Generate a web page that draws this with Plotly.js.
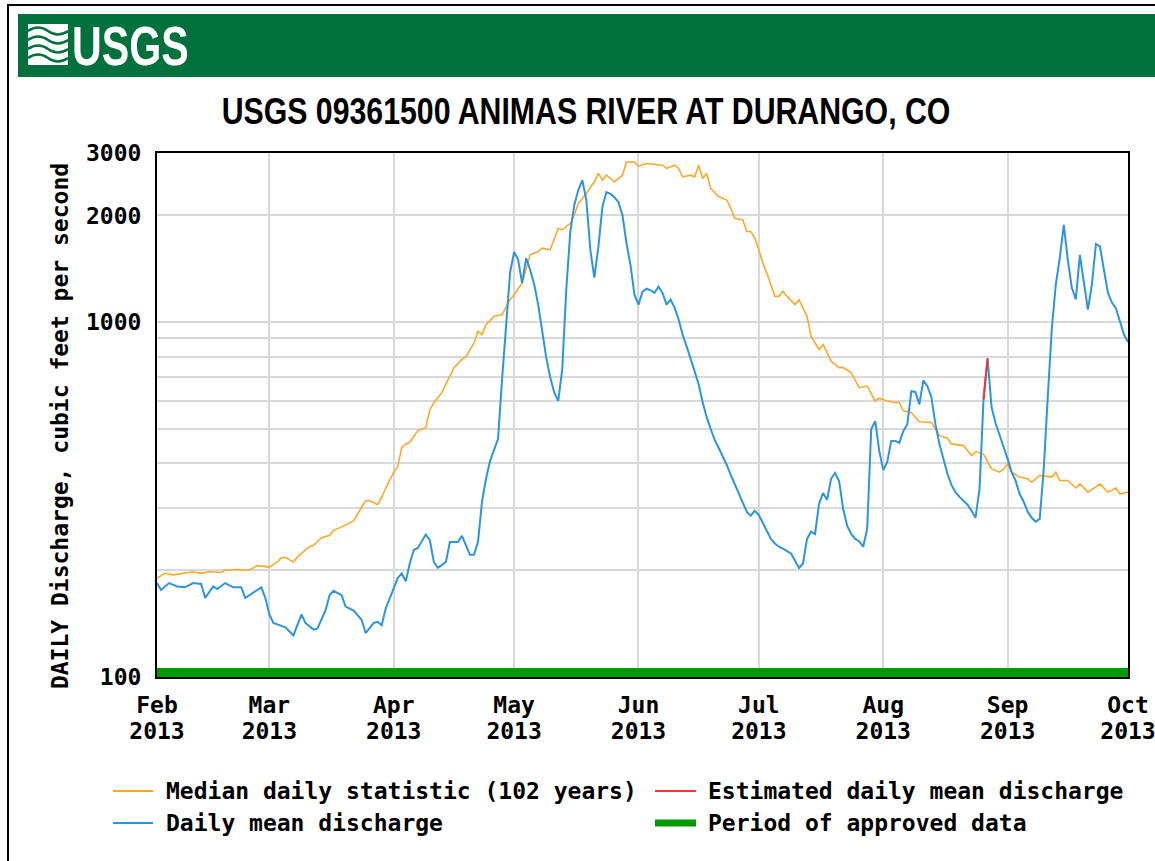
<!DOCTYPE html>
<html>
<head>
<meta charset="utf-8">
<script src="https://cdn.plot.ly/plotly-3.0.1.min.js"></script>
<style>html,body{margin:0;padding:0;background:#fff;}#chart{width:1155px;height:861px;}</style>
</head>
<body>
<div id="chart"></div>
<script>
// ---------------- DATA ----------------
const monthTicks = ['2013-02-01','2013-03-01','2013-04-01','2013-05-01','2013-06-01','2013-07-01','2013-08-01','2013-09-01','2013-10-01'];
const monthLabels = ['Feb<br>2013','Mar<br>2013','Apr<br>2013','May<br>2013','Jun<br>2013','Jul<br>2013','Aug<br>2013','Sep<br>2013','Oct<br>2013'];
const yGridValues = [100,200,300,400,500,600,700,800,900,1000,2000,3000];
const yTickLabels = ['100','','','','','','','','','1000','2000','3000'];

const medianDates = ['2013-02-01','2013-02-03','2013-02-05','2013-02-08','2013-02-10','2013-02-12','2013-02-14','2013-02-17','2013-02-18','2013-02-21','2013-02-24','2013-02-26',
'2013-03-01','2013-03-03','2013-03-04','2013-03-05','2013-03-07','2013-03-08','2013-03-10','2013-03-11','2013-03-12','2013-03-14','2013-03-16','2013-03-17','2013-03-20','2013-03-22','2013-03-24','2013-03-25','2013-03-26','2013-03-28','2013-03-29','2013-03-30',
'2013-04-01','2013-04-02','2013-04-03','2013-04-04','2013-04-05','2013-04-07','2013-04-09','2013-04-10','2013-04-11','2013-04-13','2013-04-14','2013-04-15','2013-04-16','2013-04-18','2013-04-19','2013-04-21','2013-04-22','2013-04-23','2013-04-24','2013-04-26','2013-04-28','2013-04-30',
'2013-05-01','2013-05-03','2013-05-05','2013-05-07','2013-05-08','2013-05-10','2013-05-11','2013-05-12','2013-05-13','2013-05-15','2013-05-16','2013-05-17','2013-05-19','2013-05-21','2013-05-22','2013-05-23','2013-05-24','2013-05-26','2013-05-28','2013-05-29','2013-05-31',
'2013-06-01','2013-06-03','2013-06-04','2013-06-07','2013-06-08','2013-06-10','2013-06-11','2013-06-12','2013-06-14','2013-06-15','2013-06-16','2013-06-17','2013-06-18','2013-06-19','2013-06-21','2013-06-23','2013-06-24','2013-06-25','2013-06-27','2013-06-28','2013-06-29','2013-06-30',
'2013-07-01','2013-07-02','2013-07-03','2013-07-05','2013-07-06','2013-07-07','2013-07-08','2013-07-10','2013-07-11','2013-07-13','2013-07-14','2013-07-16','2013-07-17','2013-07-19','2013-07-21','2013-07-22','2013-07-24','2013-07-26','2013-07-28','2013-07-30','2013-07-31',
'2013-08-02','2013-08-04','2013-08-05','2013-08-06','2013-08-08','2013-08-10','2013-08-13','2013-08-15','2013-08-17','2013-08-18','2013-08-21','2013-08-23','2013-08-24','2013-08-26','2013-08-28','2013-08-30','2013-08-31',
'2013-09-01','2013-09-02','2013-09-04','2013-09-06','2013-09-07','2013-09-09','2013-09-12','2013-09-13','2013-09-14','2013-09-16','2013-09-18','2013-09-19','2013-09-21','2013-09-24','2013-09-26','2013-09-28','2013-09-29','2013-10-01'];
const medianValues = [190,196,194,196,198,196,198,197,200,201,200,206,
204,211,217,217,211,218,228,233,235,247,251,259,268,276,301,314,314,306,321,341,
378,392,444,454,459,495,505,566,593,634,669,705,745,786,800,875,943,923,985,1039,1051,1158,
1196,1290,1549,1582,1618,1600,1726,1841,1821,1901,2006,2163,2308,2488,2627,2516,2598,2488,2598,2831,2831,
2754,2802,2795,2772,2714,2772,2714,2570,2598,2570,2772,2544,2627,2384,2258,2211,2095,1964,1943,1802,1802,1726,
1600,1468,1376,1183,1183,1222,1183,1121,1158,1039,913,838,866,777,745,745,721,654,661,600,611,
600,594,594,563,557,524,522,479,471,454,449,421,432,425,386,378,386,
399,378,366,362,354,370,366,378,358,358,341,350,332,350,332,341,328,332];

const dailyDates = ['2013-02-01','2013-02-02','2013-02-04','2013-02-06','2013-02-08','2013-02-10','2013-02-12','2013-02-13','2013-02-15','2013-02-16','2013-02-18','2013-02-20','2013-02-22','2013-02-23','2013-02-25','2013-02-27','2013-02-28',
'2013-03-01','2013-03-02','2013-03-04','2013-03-05','2013-03-07','2013-03-08','2013-03-09','2013-03-10','2013-03-12','2013-03-13','2013-03-15','2013-03-16','2013-03-17','2013-03-19','2013-03-20','2013-03-22','2013-03-24','2013-03-25','2013-03-27','2013-03-28','2013-03-29','2013-03-30','2013-03-31',
'2013-04-02','2013-04-03','2013-04-04','2013-04-05','2013-04-06','2013-04-07','2013-04-09','2013-04-10','2013-04-11','2013-04-12','2013-04-14','2013-04-15','2013-04-17','2013-04-18','2013-04-20','2013-04-21','2013-04-22',
'2013-04-23','2013-04-24','2013-04-25','2013-04-26','2013-04-27','2013-04-28','2013-04-29','2013-04-30',
'2013-05-01','2013-05-02','2013-05-03','2013-05-04','2013-05-05','2013-05-06','2013-05-07','2013-05-08','2013-05-09','2013-05-10','2013-05-11','2013-05-12','2013-05-13','2013-05-14','2013-05-15','2013-05-16','2013-05-17','2013-05-18','2013-05-19','2013-05-20','2013-05-21','2013-05-22','2013-05-23','2013-05-24','2013-05-25','2013-05-26','2013-05-27','2013-05-28','2013-05-29','2013-05-30','2013-05-31',
'2013-06-01','2013-06-02','2013-06-03','2013-06-04','2013-06-05','2013-06-06','2013-06-07','2013-06-08','2013-06-09','2013-06-10','2013-06-11','2013-06-12','2013-06-13','2013-06-14','2013-06-15','2013-06-16','2013-06-17','2013-06-18','2013-06-19','2013-06-20','2013-06-21','2013-06-22','2013-06-23','2013-06-24','2013-06-25','2013-06-26','2013-06-27','2013-06-28','2013-06-29','2013-06-30',
'2013-07-01','2013-07-02','2013-07-03','2013-07-04','2013-07-05','2013-07-06','2013-07-07','2013-07-08','2013-07-09','2013-07-10','2013-07-11','2013-07-12','2013-07-13','2013-07-14','2013-07-15','2013-07-16','2013-07-17','2013-07-18','2013-07-19','2013-07-20','2013-07-21','2013-07-22','2013-07-23','2013-07-24','2013-07-25','2013-07-26','2013-07-27','2013-07-28','2013-07-29','2013-07-30','2013-07-31',
'2013-08-01','2013-08-02','2013-08-03','2013-08-04','2013-08-05','2013-08-06','2013-08-07','2013-08-08','2013-08-09','2013-08-10','2013-08-11','2013-08-12','2013-08-13','2013-08-14','2013-08-15','2013-08-16','2013-08-17','2013-08-18','2013-08-19','2013-08-20','2013-08-21','2013-08-22','2013-08-23','2013-08-24','2013-08-25','2013-08-26','2013-08-27','2013-08-28','2013-08-29','2013-08-30','2013-08-31',
'2013-09-01','2013-09-02','2013-09-03','2013-09-04','2013-09-05','2013-09-06','2013-09-07','2013-09-08','2013-09-09','2013-09-10','2013-09-11','2013-09-12','2013-09-13','2013-09-14','2013-09-15','2013-09-16','2013-09-17','2013-09-18','2013-09-19','2013-09-20','2013-09-21','2013-09-22','2013-09-23','2013-09-24','2013-09-25','2013-09-26','2013-09-27','2013-09-28','2013-09-29','2013-09-30','2013-10-01'];
const dailyValues = [184,176,184,180,179,184,183,167,180,177,184,179,179,167,173,179,167,
150,142,139,138,131,140,150,142,136,137,154,170,175,170,158,154,145,133,142,143,140,156,167,
190,196,186,209,228,231,252,243,211,203,211,240,240,250,221,221,240,
312,362,406,434,469,690,973,1379,
1579,1500,1290,1517,1406,1280,1121,935,796,700,634,600,737,1235,1798,2140,2358,2515,2211,1600,1335,1631,2112,2328,2300,2250,2180,2006,1674,1452,1196,
1121,1220,1243,1230,1210,1260,1210,1121,1158,1100,1018,923,855,786,732,669,595,540,500,466,442,420,396,371,350,328,310,292,285,294,
286,272,257,245,238,233,230,227,223,213,203,209,245,257,253,308,330,316,362,376,357,298,267,253,245,241,233,262,500,526,434,
383,404,463,463,457,493,516,639,636,587,686,660,615,516,454,412,374,348,332,322,314,306,294,281,339,607,791,576,519,478,445,
412,378,357,328,312,292,281,274,279,386,615,954,1276,1519,1881,1500,1250,1160,1549,1276,1086,1276,1663,1636,1424,1210,1136,1093,1005,923,880];

const estimatedDates = ['2013-08-26','2013-08-27'];
const estimatedValues = [607,791];

const approvedPeriod = ['2013-02-01','2013-10-01'];

const legendNames = ['Median daily statistic (102 years)','Estimated daily mean discharge','Daily mean discharge','Period of approved data'];

// ---------------- STYLE / GEOMETRY ----------------
const COLORS = {median:'#FBA92C', daily:'#2F95DA', estimated:'#FF3333', approved:'#009A00', header:'#00703C', grid:'#D9D9D9'};
const FIG_W = 1155, FIG_H = 861;
const MARGIN = {l:157, r:27, t:153, b:184, pad:0};
const PLOT_W = FIG_W - MARGIN.l - MARGIN.r;
const PLOT_H = FIG_H - MARGIN.t - MARGIN.b;
const fx = px => (px - MARGIN.l) / PLOT_W;
const fy = py => 1 - (py - MARGIN.t) / PLOT_H;
const MONO = '"DejaVu Sans Mono", monospace';
const NARROW = '"Liberation Sans Narrow", "Liberation Sans", Arial, sans-serif';
const MONO_FONT = {family:MONO, size:23, color:'#000', weight:'bold'};

const traces = [
  {x: medianDates, y: medianValues, type:'scatter', mode:'lines', name: legendNames[0], showlegend:false,
   line:{color:COLORS.median, width:1.6}},
  {x: dailyDates, y: dailyValues, type:'scatter', mode:'lines', name: legendNames[2], showlegend:false,
   line:{color:COLORS.daily, width:2}},
  {x: estimatedDates, y: estimatedValues, type:'scatter', mode:'lines', name: legendNames[1], showlegend:false,
   line:{color:COLORS.estimated, width:2}}
];

const shapes = [
  {type:'line', xref:'paper', yref:'paper', x0:fx(8), x1:fx(8), y0:fy(4), y1:fy(861), line:{color:'#000', width:2}},
  {type:'line', xref:'paper', yref:'paper', x0:fx(7), x1:fx(1156), y0:fy(5), y1:fy(5), line:{color:'#000', width:2}},
  {type:'rect', xref:'paper', yref:'paper', x0:fx(18), x1:fx(1156), y0:fy(14), y1:fy(77), fillcolor:COLORS.header, line:{width:0}},
  {type:'rect', xref:'paper', yref:'paper', x0:fx(28), x1:fx(68), y0:fy(24), y1:fy(65), fillcolor:'#FFFFFF', line:{width:0}},
  {type:'rect', xref:'x', yref:'paper', x0:approvedPeriod[0], x1:approvedPeriod[1], y0:0, y1:9/PLOT_H,
   fillcolor:COLORS.approved, line:{width:0}, layer:'above'},
  {type:'line', xref:'paper', yref:'paper', x0:fx(113), x1:fx(153), y0:fy(791), y1:fy(791), line:{color:COLORS.median, width:2}},
  {type:'line', xref:'paper', yref:'paper', x0:fx(655), x1:fx(696), y0:fy(791), y1:fy(791), line:{color:COLORS.estimated, width:2}},
  {type:'line', xref:'paper', yref:'paper', x0:fx(113), x1:fx(153), y0:fy(823), y1:fy(823), line:{color:COLORS.daily, width:2}},
  {type:'line', xref:'paper', yref:'paper', x0:fx(655), x1:fx(696), y0:fy(823), y1:fy(823), line:{color:COLORS.approved, width:7}}
];
for (let i = 0; i < 4; i++) {
  const y0 = 31 + i * 9;
  shapes.push({type:'path', xref:'paper', yref:'paper', line:{color:COLORS.header, width:2.5},
    path: 'M' + fx(28) + ',' + fy(y0) + ' Q' + fx(38) + ',' + fy(y0 - 7) + ' ' + fx(48) + ',' + fy(y0) +
          ' T' + fx(68) + ',' + fy(y0)});
}

const annotations = [
  {text:'USGS', xref:'paper', yref:'paper', x:fx(70), y:fy(45), xanchor:'left', yanchor:'middle', showarrow:false,
   font:{family:NARROW, size:56, color:'#FFFFFF', weight:'bold'}},
  {text:legendNames[0], xref:'paper', yref:'paper', x:fx(164), y:fy(791), xanchor:'left', yanchor:'middle', showarrow:false, font:MONO_FONT},
  {text:legendNames[1], xref:'paper', yref:'paper', x:fx(706), y:fy(791), xanchor:'left', yanchor:'middle', showarrow:false, font:MONO_FONT},
  {text:legendNames[2], xref:'paper', yref:'paper', x:fx(164), y:fy(823), xanchor:'left', yanchor:'middle', showarrow:false, font:MONO_FONT},
  {text:legendNames[3], xref:'paper', yref:'paper', x:fx(706), y:fy(823), xanchor:'left', yanchor:'middle', showarrow:false, font:MONO_FONT}
];

const layout = {
  width: FIG_W, height: FIG_H, margin: MARGIN,
  paper_bgcolor:'#FFFFFF', plot_bgcolor:'#FFFFFF',
  showlegend:false,
  title:{text:'USGS 09361500 ANIMAS RIVER AT DURANGO, CO', xref:'container', yref:'container',
    x:586/FIG_W, xanchor:'center', y:1 - 111/FIG_H, yanchor:'middle',
    font:{family:NARROW, size:37, color:'#000', weight:'bold'}},
  xaxis:{type:'date', range:[approvedPeriod[0], approvedPeriod[1]], tickmode:'array', tickvals:monthTicks, ticktext:monthLabels,
    showgrid:true, gridcolor:COLORS.grid, gridwidth:2, showline:true, linecolor:'#000', linewidth:2, mirror:true,
    ticks:'', ticklabelstandoff:6, ticklabeloverflow:'allow', tickfont:MONO_FONT, zeroline:false, fixedrange:true},
  yaxis:{type:'log', range:[Math.log10(100), Math.log10(3000)], tickmode:'array', tickvals:yGridValues, ticktext:yTickLabels,
    showgrid:true, gridcolor:COLORS.grid, gridwidth:2, showline:true, linecolor:'#000', linewidth:2, mirror:true,
    ticks:'', ticklabelstandoff:9, ticklabeloverflow:'allow', tickfont:MONO_FONT, zeroline:false, fixedrange:true,
    title:{text:'DAILY Discharge, cubic feet per second', standoff:11, font:MONO_FONT}},
  shapes: shapes,
  annotations: annotations
};

function squeeze(el, sx, anchor) {
  const bb = el.getBBox();
  const ax = anchor === 'left' ? bb.x : bb.x + bb.width / 2;
  const prev = el.getAttribute('transform') || '';
  el.setAttribute('transform', prev + ' translate(' + ax + ',0) scale(' + sx + ',1) translate(' + (-ax) + ',0)');
}

Plotly.newPlot('chart', traces, layout, {displayModeBar:false, staticPlot:true}).then(gd => {
  // condensed face for title and logo text (narrow sans look)
  const title = gd.querySelector('.gtitle');
  if (title) squeeze(title, 0.818, 'center');
  gd.querySelectorAll('.annotation-text').forEach(t => { if (t.textContent === 'USGS') squeeze(t, 0.735, 'left'); });
  // tighter line spacing for two-line month labels
  gd.querySelectorAll('.xtick text tspan.line').forEach(ts => {
    const dy = ts.getAttribute('dy');
    if (dy && parseFloat(dy) > 0) ts.setAttribute('dy', '1.13em');
  });
  // centre the rotated y title like the reference
  const yt = gd.querySelector('.ytitle');
  if (yt) yt.setAttribute('transform', 'translate(0,11) ' + (yt.getAttribute('transform') || ''));
});
</script>
</body>
</html>
